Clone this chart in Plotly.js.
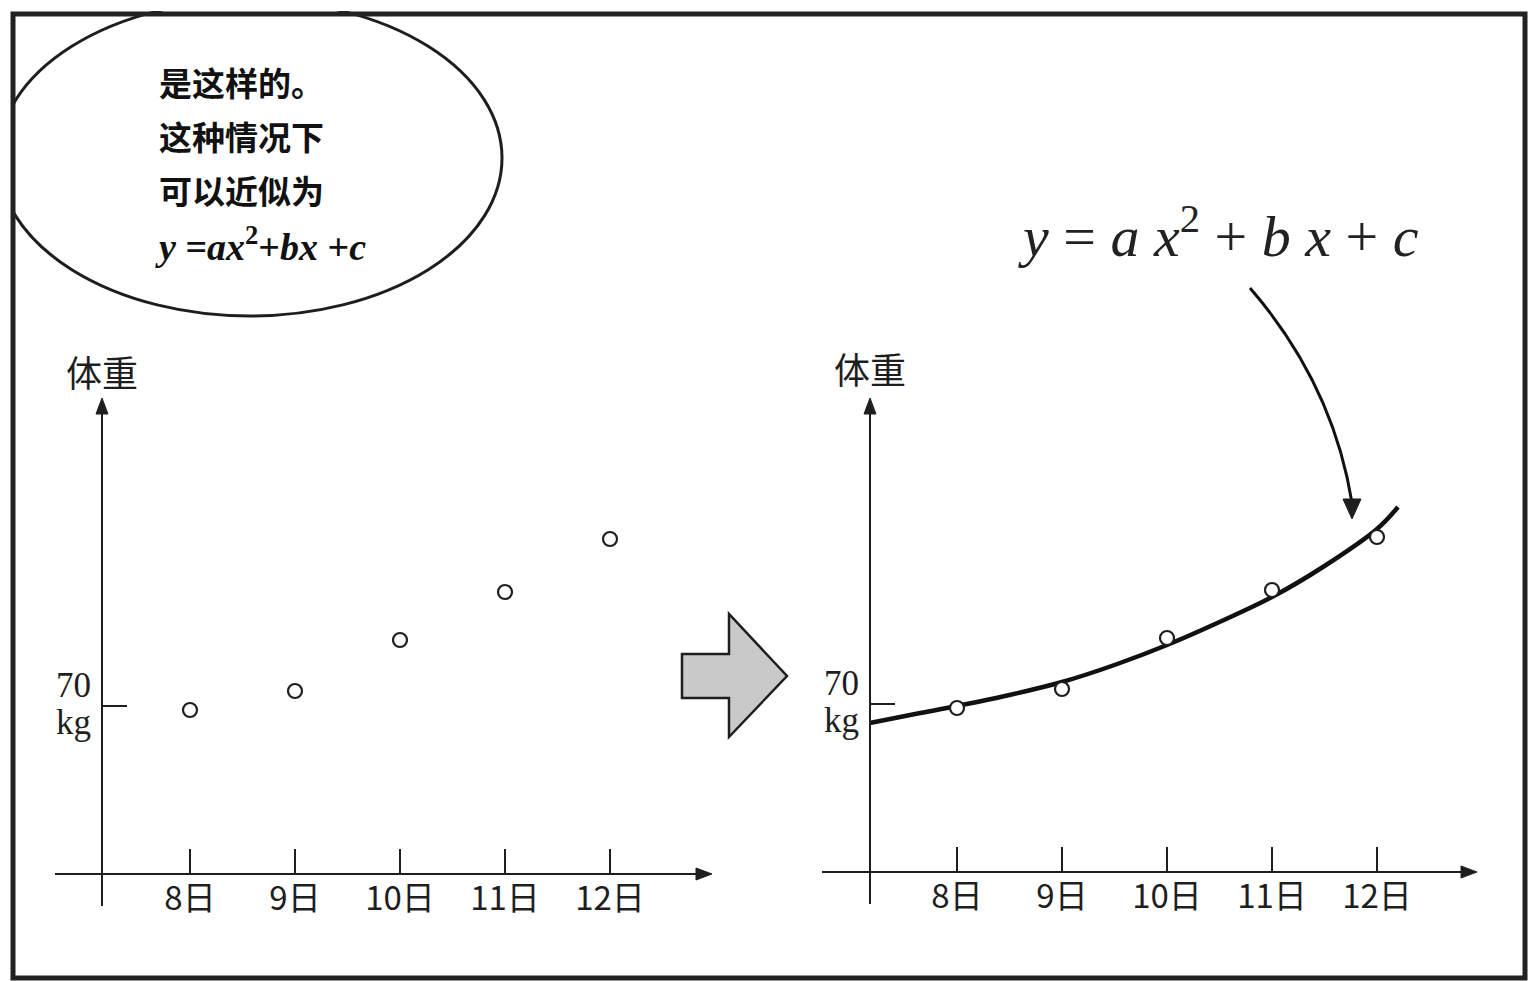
<!DOCTYPE html>
<html>
<head>
<meta charset="utf-8">
<script src="https://cdn.plot.ly/plotly-3.0.1.min.js"></script>
<style>html,body{margin:0;padding:0;background:#fff;}#chart{width:1529px;height:981px;}</style>
</head>
<body>
<div id="chart"></div>
<script>
// ---- data ----
const days = [8, 9, 10, 11, 12];
const dayLabels = ['8日', '9日', '10日', '11日', '12日'];
const weightKg = [69.8, 70.75, 73.3, 75.7, 78.35];
const fitDays = [7.17, 7.65, 8, 8.5, 9, 9.5, 10, 10.5, 11, 11.5, 12, 12.2];
const fitKg = [69.05, 69.55, 69.9, 70.45, 71.1, 71.95, 72.95, 74.1, 75.35, 76.9, 78.75, 79.85];
const yTickVals = [70];
const yTickText = ['70', 'kg'];
const yAxisTitle = '体重';
const bubbleLines = ['是这样的。', '这种情况下', '可以近似为'];
const bubbleFormula = '<b><i>y</i> =<i>ax</i><sup>2</sup>+<i>bx</i> +<i>c</i></b>';
const bigFormula = '<i>y</i> = <i>a x</i><sup style="font-size:70%">2</sup> + <i>b x</i> + <i>c</i>';

// ---- geometry (pixels) ----
const W = 1529, H = 981;
const px = v => v / W;
const py = v => 1 - v / H;
const DAYPX = 105, KGPX = 20;
const panels = [
  {yAxisX: 102, x0: 55, x1: 705, tick8: 190, axisY: 874, yTop: 402, yBot: 906, px70: 706, tipX: 712},
  {yAxisX: 870, x0: 822, x1: 1469, tick8: 957, axisY: 872, yTop: 402, yBot: 904, px70: 704, tipX: 1477}
];
const ink = '#1e1e1e';

function xAx(p) {
  return {
    domain: [px(p.x0), px(p.x1)],
    range: [8 + (p.x0 - p.tick8) / DAYPX, 8 + (p.x1 - p.tick8) / DAYPX],
    anchor: 'free', position: py(p.axisY),
    showline: true, linecolor: ink, linewidth: 2,
    showgrid: false, zeroline: false,
    tickmode: 'array', tickvals: days, ticktext: dayLabels,
    ticks: 'inside', ticklen: 24, tickwidth: 2, tickcolor: ink,
    ticklabelstandoff: -5,
    tickfont: {family: 'Noto Sans CJK JP', size: 33, color: ink},
    fixedrange: true
  };
}
function yAx(p) {
  return {
    domain: [py(p.yBot), py(p.yTop)],
    range: [70 - (p.yBot - p.px70) / KGPX, 70 + (p.px70 - p.yTop) / KGPX],
    anchor: 'free', position: px(p.yAxisX),
    showline: true, linecolor: ink, linewidth: 2,
    showgrid: false, zeroline: false,
    tickmode: 'array', tickvals: yTickVals, showticklabels: false,
    ticks: 'inside', ticklen: 24, tickwidth: 2, tickcolor: ink,
    fixedrange: true
  };
}

const markerStyle = {symbol: 'circle', size: 14, color: '#fff', line: {color: ink, width: 2.2}};
const traces = [
  {x: days, y: weightKg, xaxis: 'x', yaxis: 'y', type: 'scatter', mode: 'markers', marker: markerStyle, cliponaxis: false},
  {x: fitDays, y: fitKg, xaxis: 'x2', yaxis: 'y2', type: 'scatter', mode: 'lines', line: {color: '#111', width: 4.5, shape: 'spline'}, cliponaxis: false},
  {x: days, y: weightKg, xaxis: 'x2', yaxis: 'y2', type: 'scatter', mode: 'markers', marker: markerStyle, cliponaxis: false}
];

function P(x, y) { return px(x).toFixed(5) + ',' + py(y).toFixed(5); }
function tri(a, b, c) {
  return {type: 'path', xref: 'paper', yref: 'paper',
    path: 'M' + P(a[0], a[1]) + ' L' + P(b[0], b[1]) + ' L' + P(c[0], c[1]) + ' Z',
    fillcolor: ink, line: {color: ink, width: 1}};
}

const shapes = [
  // speech ellipse
  {type: 'circle', xref: 'paper', yref: 'paper', x0: px(-2), x1: px(502), y0: py(316), y1: py(0),
   fillcolor: '#fff', line: {color: ink, width: 3}},
  // masks outside frame
  {type: 'rect', xref: 'paper', yref: 'paper', x0: 0, x1: px(11), y0: 0, y1: 1, fillcolor: '#fff', line: {width: 0}},
  {type: 'rect', xref: 'paper', yref: 'paper', x0: 0, x1: 1, y0: py(11), y1: 1, fillcolor: '#fff', line: {width: 0}},
  // frame
  {type: 'rect', xref: 'paper', yref: 'paper', x0: px(13), x1: px(1525), y0: py(978), y1: py(14),
   fillcolor: 'rgba(0,0,0,0)', line: {color: '#222', width: 5}},
  // big gray arrow
  {type: 'path', xref: 'paper', yref: 'paper',
   path: 'M' + P(682, 654) + ' L' + P(729, 654) + ' L' + P(729, 614) + ' L' + P(787, 676) + ' L' + P(729, 737) + ' L' + P(729, 698) + ' L' + P(682, 698) + ' Z',
   fillcolor: '#c9c9c9', line: {color: ink, width: 2.5}},
  // curved pointer arrow
  {type: 'path', xref: 'paper', yref: 'paper',
   path: 'M' + P(1250, 288) + ' Q' + P(1333, 384) + ' ' + P(1352, 503),
   fillcolor: 'rgba(0,0,0,0)', line: {color: '#111', width: 3}},
  tri([1352, 519], [1343, 499], [1361, 499])
];
// axis arrowheads
panels.forEach(p => {
  shapes.push(tri([p.tipX, p.axisY], [p.tipX - 16, p.axisY - 6], [p.tipX - 16, p.axisY + 6]));
  shapes.push(tri([p.yAxisX, p.yTop - 4], [p.yAxisX - 6, p.yTop + 12], [p.yAxisX + 6, p.yTop + 12]));
});

const annotations = [];
panels.forEach((p, i) => {
  const yr = i === 0 ? 'y' : 'y2';
  // y axis title
  annotations.push({xref: 'paper', yref: 'paper', x: px(p.yAxisX), y: py(i === 0 ? 371 : 368), text: yAxisTitle,
    showarrow: false, xanchor: 'center', yanchor: 'middle',
    font: {family: 'Noto Sans CJK JP', size: 36, color: ink}});
  // y tick label (two lines)
  annotations.push({xref: 'paper', yref: yr, x: px(p.yAxisX), y: yTickVals[0], xshift: -9, yshift: 21,
    text: yTickText[0], showarrow: false, xanchor: 'right', yanchor: 'middle',
    font: {family: 'Liberation Serif', size: 35, color: ink}});
  annotations.push({xref: 'paper', yref: yr, x: px(p.yAxisX), y: yTickVals[0], xshift: -9, yshift: -16,
    text: yTickText[1], showarrow: false, xanchor: 'right', yanchor: 'middle',
    font: {family: 'Liberation Serif', size: 35, color: ink}});
});
// bubble text
const bubbleY = [82, 136, 190];
bubbleLines.forEach((t, i) => {
  annotations.push({xref: 'paper', yref: 'paper', x: px(157), y: py(bubbleY[i]), text: '<b>' + t + '</b>',
    showarrow: false, xanchor: 'left', yanchor: 'middle',
    font: {family: 'Noto Sans CJK SC', size: 33, color: '#111'}});
});
annotations.push({xref: 'paper', yref: 'paper', x: px(153), y: py(244), text: bubbleFormula,
  showarrow: false, xanchor: 'left', yanchor: 'middle',
  font: {family: 'Liberation Serif', size: 38, color: '#111'}});
// big formula
annotations.push({xref: 'paper', yref: 'paper', x: px(1218), y: py(233), text: bigFormula,
  showarrow: false, xanchor: 'center', yanchor: 'middle',
  font: {family: 'Liberation Serif', size: 58, color: '#222'}});

const layout = {
  width: W, height: H,
  margin: {l: 0, r: 0, t: 0, b: 0},
  paper_bgcolor: '#fff', plot_bgcolor: 'rgba(0,0,0,0)',
  showlegend: false,
  xaxis: xAx(panels[0]), yaxis: yAx(panels[0]),
  xaxis2: xAx(panels[1]), yaxis2: yAx(panels[1]),
  shapes: shapes, annotations: annotations
};

Plotly.newPlot('chart', traces, layout, {staticPlot: true, displayModeBar: false});
</script>
</body>
</html>
